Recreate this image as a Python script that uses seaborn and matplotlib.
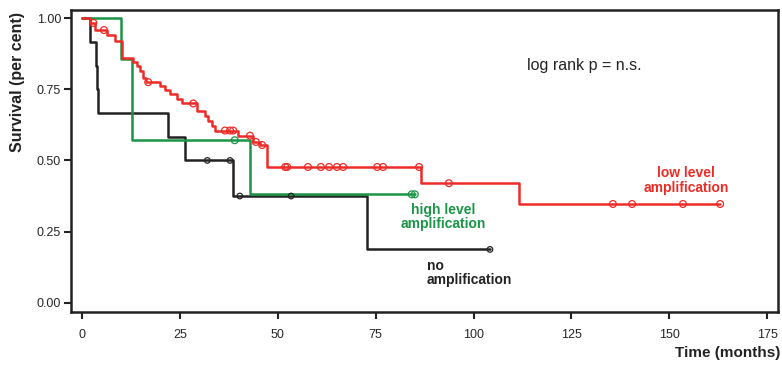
import numpy as np
import pandas as pd
import matplotlib
matplotlib.use("Agg")
import matplotlib.pyplot as plt
import seaborn as sns

# ---- data (months, survival fraction) ----
no_amp_times = [0, 2.0, 3.5, 3.8, 4.0, 22.0, 26.3, 38.6, 72.7]
no_amp_surv = [1.0, 0.917, 0.833, 0.75, 0.667, 0.583, 0.5, 0.375, 0.1875]
no_amp_censor = [32.0, 37.8, 40.3, 53.4, 104.2]
no_amp_end = 104.2

high_times = [0, 10.0, 12.7, 43.0]
high_surv = [1.0, 0.857, 0.571, 0.381]
high_censor = [39.0, 84.2, 85.0]
high_end = 85.0

low_times = [0, 2.0, 3.3, 6.4, 8.4, 10.2, 13.0, 14.0, 14.8, 15.6, 16.3, 19.9,
             21.2, 22.5, 24.3, 25.5, 29.4, 31.4, 32.2, 33.2, 34.0, 39.8, 43.7,
             45.5, 47.3, 86.6, 111.7]
low_surv = [1.0, 0.983, 0.958, 0.94, 0.92, 0.86, 0.846, 0.83, 0.814, 0.79,
            0.775, 0.762, 0.747, 0.733, 0.716, 0.70, 0.675, 0.657, 0.64, 0.622,
            0.605, 0.587, 0.565, 0.554, 0.477, 0.42, 0.347]
low_censor = [2.9, 5.6, 16.9, 28.4, 36.5, 37.8, 38.6, 42.9, 44.4, 46.0, 51.9,
              52.4, 57.7, 61.0, 63.1, 65.1, 66.7, 75.4, 76.9, 86.1, 93.7,
              135.6, 140.5, 153.5, 163.0]
low_end = 163.0

groups = ["no amplification", "high level amplification", "low level amplification"]
colors = {"no amplification": "#222222",
          "high level amplification": "#1a9447",
          "low level amplification": "#ee2b26"}
marker_sizes = {"no amplification": 16,
                "high level amplification": 24,
                "low level amplification": 24}

def build(name, times, surv, end, censor):
    t = list(times) + [end]
    s = list(surv) + [surv[-1]]
    line = pd.DataFrame({"time": t, "surv": s, "group": name})
    idx = np.searchsorted(np.array(times), np.array(censor), side="right") - 1
    cen = pd.DataFrame({"time": censor, "surv": np.array(surv)[idx], "group": name})
    return line, cen

parts = [build(groups[0], no_amp_times, no_amp_surv, no_amp_end, no_amp_censor),
         build(groups[1], high_times, high_surv, high_end, high_censor),
         build(groups[2], low_times, low_surv, low_end, low_censor)]

sns.set_style("white")
plt.rcParams["font.family"] = ["Liberation Sans", "DejaVu Sans"]

fig = plt.figure(figsize=(7.82, 3.74), dpi=100)
ax = fig.add_axes([0.0904, 0.166, 0.9046, 0.807])

for (line, cen), g in zip(parts, groups):
    sns.lineplot(data=line, x="time", y="surv", color=colors[g], ax=ax,
                 drawstyle="steps-post", estimator=None, sort=False,
                 linewidth=1.8, legend=False)
    ax.scatter(cen["time"], cen["surv"], s=marker_sizes[g], facecolors="none",
               edgecolors=colors[g], linewidths=0.9, zorder=3)

ax.set_xlim(-2.9, 177.8)
ax.set_ylim(-0.032, 1.028)
ax.set_xticks([0, 25, 50, 75, 100, 125, 150, 175])
ax.set_yticks([0.0, 0.25, 0.5, 0.75, 1.0])
ax.set_yticklabels(["0.00", "0.25", "0.50", "0.75", "1.00"])
ax.tick_params(axis="both", which="major", direction="out", length=5,
               width=1.5, labelsize=9, color="#222222", bottom=True, left=True)
ax.tick_params(axis="x", pad=7)
ax.tick_params(axis="y", pad=2)
for sp in ax.spines.values():
    sp.set_visible(True)
    sp.set_color("#222222")
    sp.set_linewidth(1.8)
ax.set_xlabel("")
ax.set_ylabel("")

fig.text(0.022, 0.78, "Survival (per cent)", rotation=90, ha="center", va="center",
         fontsize=11.5, fontweight="bold", color="#222222")
fig.text(0.998, 0.056, "Time (months)", ha="right", va="center",
         fontsize=11, fontweight="bold", color="#222222")

ax.text(113.7, 0.835, "log rank p = n.s.", ha="left", va="center",
        fontsize=11.5, color="#222222")
ax.text(154.3, 0.43, "low level\namplification", ha="center", va="center",
        fontsize=10, fontweight="bold", color=colors[groups[2]], linespacing=1.05)
ax.text(92.3, 0.302, "high level\namplification", ha="center", va="center",
        fontsize=10, fontweight="bold", color=colors[groups[1]], linespacing=1.05)
ax.text(88.1, 0.105, "no\namplification", ha="left", va="center",
        fontsize=10, fontweight="bold", color="#222222", linespacing=1.05)

fig.savefig("out.png", dpi=100)
